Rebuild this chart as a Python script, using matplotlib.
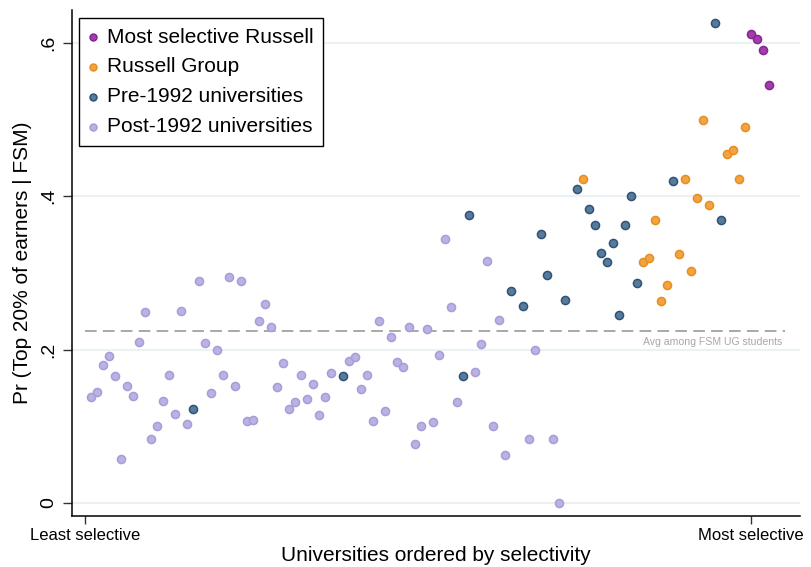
import matplotlib
matplotlib.use("Agg")
import matplotlib.pyplot as plt

plt.rcParams["font.family"] = ["Liberation Sans", "DejaVu Sans"]

# Universities ranked by selectivity (rank) and share reaching the top 20% of earners
post92_rank = [1, 2, 3, 4, 5, 6, 7, 8, 9, 10, 11, 12, 13, 14, 15, 16, 17,
               19, 20, 21, 22, 23, 24, 25, 26, 27, 28, 29, 30, 31, 32, 33, 34,
               35, 36, 37, 38, 39, 40, 41,
               44, 45, 46, 47, 48, 49, 50, 51, 52, 53, 54, 55, 56, 57, 58, 59,
               60, 61, 62, 65, 66, 67, 68, 69, 70, 74, 75, 78, 79]
post92_val = [0.138, 0.145, 0.180, 0.192, 0.165, 0.058, 0.153, 0.140, 0.210,
              0.249, 0.083, 0.100, 0.133, 0.167, 0.116, 0.250, 0.103,
              0.290, 0.209, 0.144, 0.199, 0.167, 0.295, 0.153, 0.289, 0.107,
              0.108, 0.238, 0.260, 0.230, 0.151, 0.182, 0.123, 0.132, 0.167,
              0.135, 0.155, 0.115, 0.138, 0.170,
              0.185, 0.190, 0.149, 0.167, 0.107, 0.237, 0.120, 0.217, 0.184,
              0.177, 0.230, 0.077, 0.100, 0.227, 0.105, 0.193, 0.344, 0.256,
              0.132, 0.171, 0.207, 0.315, 0.100, 0.239, 0.063, 0.083, 0.199,
              0.083, 0.000]

pre92_rank = [18, 43, 63, 64, 71, 73, 76, 77, 80, 82, 84, 85, 86, 87, 88, 89,
              90, 91, 92, 98, 105, 106]
pre92_val = [0.122, 0.165, 0.166, 0.375, 0.277, 0.257, 0.351, 0.298, 0.265,
             0.410, 0.384, 0.363, 0.326, 0.314, 0.339, 0.245, 0.363, 0.400,
             0.287, 0.420, 0.626, 0.369]

russell_rank = [83, 93, 94, 95, 96, 97, 99, 100, 101, 102, 103, 104, 107, 108,
                109, 110]
russell_val = [0.422, 0.314, 0.320, 0.369, 0.263, 0.284, 0.325, 0.422, 0.302,
               0.398, 0.499, 0.389, 0.455, 0.461, 0.423, 0.490]

top_rank = [111, 112, 113, 114]
top_val = [0.612, 0.605, 0.591, 0.545]

fsm_avg = 0.224

y_ticks = [0, 0.2, 0.4, 0.6]
y_ticklabels = ["0", ".2", ".4", ".6"]
x_ticks = [0, 111]
x_ticklabels = ["Least selective", "Most selective"]

fig = plt.figure(figsize=(8.11, 5.67), dpi=100)
ax = fig.add_axes([0.0884, 0.0899, 0.8980, 0.8925])

for y in y_ticks:
    ax.axhline(y, color="#eaf2f3", lw=1.5, zorder=0)

ax.plot([0, 116.7], [fsm_avg, fsm_avg], color="#a8a8a8", lw=1.4,
        dashes=(6, 3.2), zorder=1)
ax.text(116.2, fsm_avg - 0.007, "Avg among FSM UG students", color="#a8a8a8",
        fontsize=7.6, ha="right", va="top")

groups = [
    (top_rank, top_val, "#a23ea9", "#8a2494", "Most selective Russell"),
    (russell_rank, russell_val, "#f2a445", "#e88e1e", "Russell Group"),
    (pre92_rank, pre92_val, "#587b9b", "#2f5376", "Pre-1992 universities"),
    (post92_rank, post92_val, "#bab2e3", "#a89cd9", "Post-1992 universities"),
]
handles = []
for xs, ys, fc, ec, lab in groups:
    h = ax.scatter(xs, ys, s=34, c=fc, edgecolors=ec, linewidths=1.1,
                   zorder=3, label=lab)
    handles.append(h)

ax.set_xlim(-2.17, 119.2)
ax.set_ylim(-0.017, 0.643)

ax.set_yticks(y_ticks)
ax.set_yticklabels(y_ticklabels, rotation=90, va="center", fontsize=14)
ax.set_xticks(x_ticks)
ax.set_xticklabels(x_ticklabels, fontsize=12)
ax.tick_params(axis="y", length=6.5, width=1, color="#333333", pad=4)
ax.tick_params(axis="x", length=5.5, width=1, color="#333333", pad=3)

for side in ("top", "right"):
    ax.spines[side].set_visible(False)
for side in ("left", "bottom"):
    ax.spines[side].set_linewidth(1.1)
    ax.spines[side].set_color("black")

ax.set_ylabel("Pr (Top 20% of earners | FSM)", fontsize=15, labelpad=6)
ax.set_xlabel("Universities ordered by selectivity", fontsize=15, labelpad=2)

leg = ax.legend(handles=handles, loc="upper left",
                bbox_to_anchor=(0.0104, 0.9836),
                fontsize=15, markerscale=0.85, handletextpad=0.5,
                borderpad=0.45, labelspacing=0.52, handlelength=0.4,
                borderaxespad=0, fancybox=False, framealpha=1)
leg.get_frame().set_edgecolor("black")
leg.get_frame().set_linewidth(1.0)

fig.savefig("out.png", dpi=100)
